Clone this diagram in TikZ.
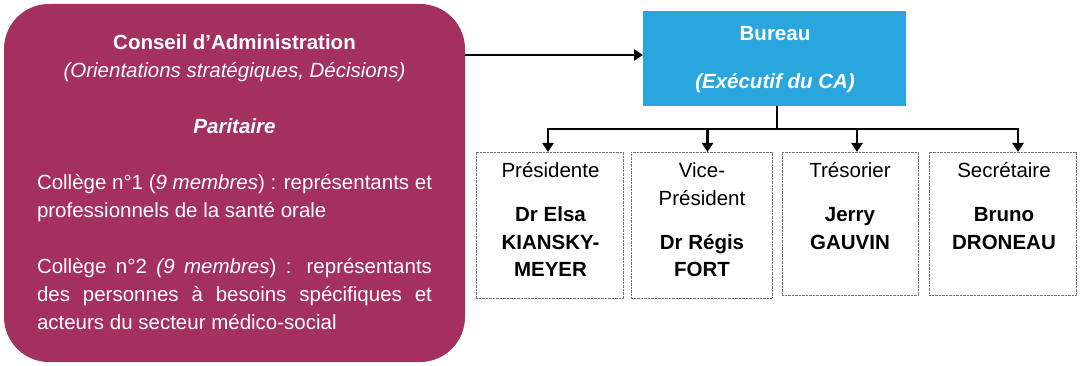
\documentclass[tikz,border=0pt]{standalone}
\usepackage{fontspec}
\setmainfont{Liberation Sans}
\usetikzlibrary{arrows.meta}
\definecolor{camag}{HTML}{A3305F}
\definecolor{bublue}{HTML}{29A6DE}
\newcommand{\fsz}{\fontsize{20.5}{28}\selectfont}
\begin{document}
\begin{tikzpicture}[x=1pt,y=-1pt,
  every node/.style={inner sep=0pt, outer sep=0pt, font=\fsz},
  txt/.style={text=white},
  rolebox/.style={draw=black!55, dash pattern=on 0.8pt off 0.6pt, line width=0.9pt},
  conn/.style={line width=2.6pt, draw=black},
  arr/.style={conn, -{Triangle[length=9pt,width=11pt]}}
]
\useasboundingbox (0,0) rectangle (1080,366);
\fill[white] (0,0) rectangle (1080,366);

% Conseil d'Administration
\node[fill=camag, rounded corners=45pt, minimum width=461pt, minimum height=358pt, anchor=north west] (ca) at (4,4) {};
\node[txt, anchor=base] (t1) at (234.5,50) {\bfseries Conseil d’Administration};
\node[txt, anchor=base] (t2) at (234.5,78) {\itshape (Orientations stratégiques, Décisions)};
\node[txt, anchor=base] (t3) at (234.5,134) {\bfseries\itshape Paritaire};
\node[txt, anchor=base west, text width=395pt, align=justify] (p1) at (37,190)
  {\hyphenpenalty=10000 Collège n°1 (\textit{9 membres}) : représentants et\linebreak professionnels de la santé orale};
\node[txt, anchor=base west, text width=395pt, align=justify] (p2) at (37,274)
  {\hyphenpenalty=10000 Collège n°2 \textit{(9 membres}) : représentants\linebreak des personnes à besoins spécifiques et\linebreak acteurs du secteur médico-social};

% Bureau
\node[fill=bublue, minimum width=263pt, minimum height=95pt, anchor=north west] (bureau) at (643,11) {};
\node[txt, anchor=base] (bt1) at (775,41) {\bfseries Bureau};
\node[txt, anchor=base] (bt2) at (775,89) {\bfseries\itshape (Exécutif du CA)};

% Role boxes
\node[rolebox, minimum width=147pt, minimum height=146pt, anchor=north west] (b1) at (476,152) {};
\node[rolebox, minimum width=141pt, minimum height=146pt, anchor=north west] (b2) at (631,152) {};
\node[rolebox, minimum width=136pt, minimum height=143pt, anchor=north west] (b3) at (782,152) {};
\node[rolebox, minimum width=147pt, minimum height=143pt, anchor=north west] (b4) at (929,152) {};

\node[anchor=base] (r1) at (550.5,178) {Présidente};
\node[anchor=base] (n1a) at (550.5,222) {\bfseries Dr Elsa};
\node[anchor=base] (n1b) at (550.5,250) {\bfseries KIANSKY-};
\node[anchor=base] (n1c) at (550.5,277) {\bfseries MEYER};

\node[anchor=base] (r2a) at (702,178) {Vice-};
\node[anchor=base] (r2b) at (702,206) {Président};
\node[anchor=base] (n2a) at (702,250) {\bfseries Dr Régis};
\node[anchor=base] (n2b) at (702,277) {\bfseries FORT};

\node[anchor=base] (r3) at (850,178) {Trésorier};
\node[anchor=base] (n3a) at (850,222) {\bfseries Jerry};
\node[anchor=base] (n3b) at (850,250) {\bfseries GAUVIN};

\node[anchor=base] (r4) at (1004,178) {Secrétaire};
\node[anchor=base] (n4a) at (1004,222) {\bfseries Bruno};
\node[anchor=base] (n4b) at (1004,250) {\bfseries DRONEAU};

% Connectors
\coordinate (bw) at ([yshift=3.5pt]bureau.west);
\draw[arr] (ca.east |- bw) -- (bw);

\coordinate (bus) at (777,129);
\coordinate (busL) at (548,129);
\coordinate (busR) at (1018,129);
\coordinate (a2) at (707.5,129);
\coordinate (a3) at (857,129);
\draw[conn] (bus |- bureau.south) -- (bus);
\draw[arr] (bus) -- (busL) -- (busL |- b1.north);
\draw[arr] (bus) -- (busR) -- (busR |- b4.north);
\draw[arr] (a2) -- (a2 |- b2.north);
\draw[arr] (a3) -- (a3 |- b3.north);
\end{tikzpicture}
\end{document}
